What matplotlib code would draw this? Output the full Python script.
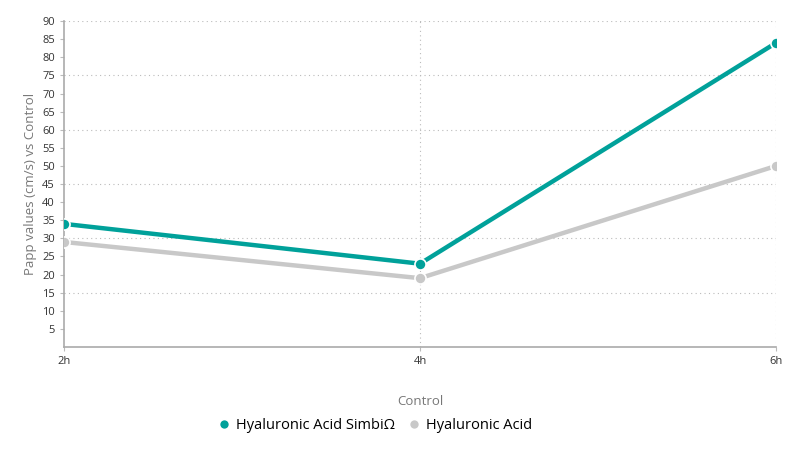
import matplotlib.pyplot as plt

times = ["2h", "4h", "6h"]
simbio = [34, 23, 84]
plain = [29, 19, 50]
labels = ["Hyaluronic Acid SimbiΩ", "Hyaluronic Acid"]
colors = ["#00a19a", "#c8c8c8"]

plt.rcParams["font.family"] = ["Open Sans", "DejaVu Sans"]

fig = plt.figure(figsize=(8, 4.5), dpi=100)
ax = fig.add_axes([0.08, 0.229, 0.89, 0.724])

x = range(len(times))
for vals, lab, col in zip([simbio, plain], labels, colors):
    ax.plot(x, vals, color=col, lw=3.2, marker="o", ms=8,
            mec="white", mew=1.2, label=lab, solid_capstyle="round", zorder=3)

ax.set_xlim(0, 2)
ax.set_ylim(0, 90)
ax.set_yticks(range(5, 95, 5))
ax.set_xticks(list(x))
ax.set_xticklabels(times)
ax.tick_params(axis="both", labelsize=8, colors="#bbbbbb", labelcolor="#333333",
               length=3, width=0.8)

for y in range(15, 95, 15):
    ax.axhline(y, color="#bbbbbb", ls=(0, (1, 3)), lw=0.8, zorder=1)
for xv in [1, 2]:
    ax.axvline(xv, color="#bbbbbb", ls=(0, (1, 3)), lw=0.8, zorder=1)

for s in ["top", "right"]:
    ax.spines[s].set_visible(False)
for s in ["left", "bottom"]:
    ax.spines[s].set_color("#aaaaaa")
    ax.spines[s].set_linewidth(1.2)

ax.set_ylabel("Papp values (cm/s) vs Control", fontsize=9.5, color="#777777", labelpad=4)
fig.text(0.526, 0.108, "Control", fontsize=9.5, color="#777777", ha="center", va="center")

handles, labs = ax.get_legend_handles_labels()
leg = fig.legend(handles, labs, loc="center", bbox_to_anchor=(0.47, 0.055), ncol=2,
                 frameon=False, fontsize=10.5, handlelength=0.6, handletextpad=0.5,
                 columnspacing=1.0, markerscale=0.9)
for h in leg.legend_handles:
    h.set_linestyle("none")

fig.savefig("out.png", dpi=100)
